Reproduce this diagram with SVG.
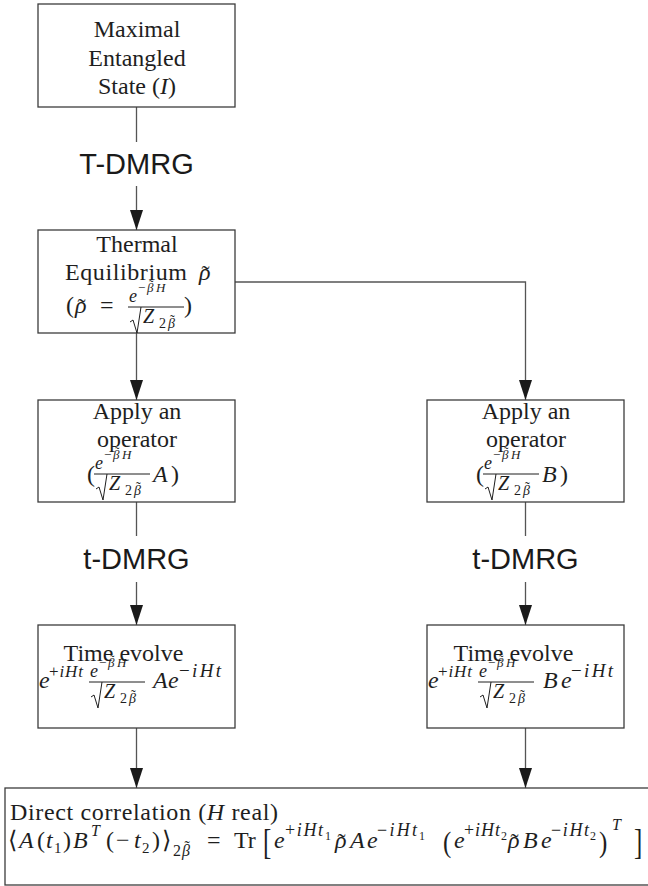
<svg xmlns="http://www.w3.org/2000/svg" xmlns:xlink="http://www.w3.org/1999/xlink" width="648" height="886" viewBox="0 0 648 886">
  <style>
    .box { fill: #fff; stroke: #3c3c3c; stroke-width: 1.3; }
    .edge { fill: none; stroke: #555; stroke-width: 1.3; }
    .t { font-family: "Liberation Serif", "DejaVu Serif", serif; fill: #1e1e1e; }
    .c { text-anchor: middle; }
    .i { font-style: italic; }
    .n { font-style: normal; }
    .lbl { font-family: "Liberation Sans", Arial, sans-serif; font-size: 29px; fill: #1a1a1a; text-anchor: middle; }
    .bar { stroke: #1e1e1e; stroke-width: 1; fill: none; }
  </style>
  <defs>
    <marker id="arrow" markerUnits="userSpaceOnUse" markerWidth="20" markerHeight="14" refX="20" refY="7" orient="auto">
      <path d="M0,0.5 L20,7 L0,13.5 Z" fill="#1a1a1a"/>
    </marker>
    <!-- e^{-beta H} / sqrt(Z_{2 beta}); origin at the left end of the fraction bar -->
    <g id="frac" class="t">
      <text class="i" x="1" y="-5" font-size="18">e</text>
      <text x="10" y="-15" font-size="13">−</text>
      <text class="i" x="19" y="-15" font-size="13">β<tspan class="n" dx="-4.5" dy="-3">˜</tspan></text>
      <text class="i" x="28" y="-15" font-size="13">H</text>
      <line class="bar" x1="0" y1="0" x2="56" y2="0"/>
      <polyline class="bar" points="2,15 5,13 9,26 13,0"/>
      <text class="i" x="15" y="16" font-size="20">Z</text>
      <text x="31" y="21" font-size="14">2</text>
      <text class="i" x="40" y="21" font-size="14">β<tspan class="n" dx="-5" dy="-3">˜</tspan></text>
    </g>
  </defs>

  <!-- connectors -->
  <g id="edges">
    <line class="edge" x1="136.5" y1="107" x2="136.5" y2="142"/>
    <line class="edge" x1="136.5" y1="186" x2="136.5" y2="230" marker-end="url(#arrow)"/>
    <line class="edge" x1="136.5" y1="333" x2="136.5" y2="400" marker-end="url(#arrow)"/>
    <polyline class="edge" points="235,282 525.5,282 525.5,400" marker-end="url(#arrow)"/>
    <line class="edge" x1="136.5" y1="502" x2="136.5" y2="536"/>
    <line class="edge" x1="136.5" y1="582" x2="136.5" y2="625" marker-end="url(#arrow)"/>
    <line class="edge" x1="525.5" y1="502" x2="525.5" y2="536"/>
    <line class="edge" x1="525.5" y1="582" x2="525.5" y2="625" marker-end="url(#arrow)"/>
    <line class="edge" x1="136.5" y1="728" x2="136.5" y2="788" marker-end="url(#arrow)"/>
    <line class="edge" x1="525.5" y1="728" x2="525.5" y2="788" marker-end="url(#arrow)"/>
    <text class="lbl" x="136.5" y="174">T-DMRG</text>
    <text class="lbl" x="136.5" y="569">t-DMRG</text>
    <text class="lbl" x="525.5" y="569">t-DMRG</text>
  </g>

  <g class="t" font-size="24">
    <!-- maximal entangled state -->
    <g id="n-maximal">
      <rect class="box" x="38" y="4" width="197" height="103"/>
      <text class="c" x="137" y="37">Maximal</text>
      <text class="c" x="137" y="66">Entangled</text>
      <text class="c" x="137" y="94">State (<tspan class="i">I</tspan>)</text>
    </g>

    <!-- thermal equilibrium -->
    <g id="n-thermal">
      <rect class="box" x="38" y="230" width="197" height="103"/>
      <text class="c" x="137" y="252">Thermal</text>
      <text x="65" y="280" textLength="122" lengthAdjust="spacing">Equilibrium</text>
      <text class="i" x="199" y="280">ρ<tspan class="n" dx="-9" dy="2">˜</tspan></text>
      <text x="66" y="313">(</text>
      <text class="i" x="75" y="313">ρ<tspan class="n" dx="-9" dy="2">˜</tspan></text>
      <text x="100" y="313">=</text>
      <use xlink:href="#frac" x="128" y="307"/>
      <text x="184" y="313">)</text>
    </g>

    <!-- apply operator A -->
    <g id="n-apply-a">
      <rect class="box" x="38" y="400" width="197" height="102"/>
      <text class="c" x="137" y="419">Apply an</text>
      <text class="c" x="137" y="447">operator</text>
      <text x="87" y="482">(</text>
      <use xlink:href="#frac" x="94" y="474"/>
      <text class="i" x="153" y="482">A</text>
      <text x="171" y="482">)</text>
    </g>

    <!-- apply operator B -->
    <g id="n-apply-b">
      <rect class="box" x="427" y="400" width="197" height="102"/>
      <text class="c" x="526" y="419">Apply an</text>
      <text class="c" x="526" y="447">operator</text>
      <text x="476" y="482">(</text>
      <use xlink:href="#frac" x="483" y="474"/>
      <text class="i" x="542" y="482">B</text>
      <text x="560" y="482">)</text>
    </g>

    <!-- time evolution of A -->
    <g id="n-evolve-a">
      <rect class="box" x="38" y="625" width="197" height="103"/>
      <text class="c" x="123.5" y="661">Time evolve</text>
      <text class="i" x="39" y="688">e</text>
      <text x="49" y="677" font-size="17" textLength="34" lengthAdjust="spacing">+<tspan class="i">iHt</tspan></text>
      <use xlink:href="#frac" x="89" y="682"/>
      <text class="i" x="153" y="688">A</text>
      <text class="i" x="168" y="688">e</text>
      <text x="179" y="677" font-size="19" textLength="42" lengthAdjust="spacing">−<tspan class="i">iHt</tspan></text>
    </g>

    <!-- time evolution of B -->
    <g id="n-evolve-b">
      <rect class="box" x="427" y="625" width="197" height="103"/>
      <text class="c" x="513.5" y="661">Time evolve</text>
      <text class="i" x="428" y="688">e</text>
      <text x="438" y="677" font-size="17" textLength="34" lengthAdjust="spacing">+<tspan class="i">iHt</tspan></text>
      <use xlink:href="#frac" x="478" y="682"/>
      <text class="i" x="543" y="688">B</text>
      <text class="i" x="561" y="688">e</text>
      <text x="571" y="677" font-size="19" textLength="42" lengthAdjust="spacing">−<tspan class="i">iHt</tspan></text>
    </g>

    <!-- direct correlation -->
    <g id="n-correlation">
      <rect class="box" x="5" y="788" width="650" height="97"/>
      <text x="10" y="820" textLength="268" lengthAdjust="spacing">Direct correlation (<tspan class="i">H</tspan> real)</text>
      <text x="8" y="848">⟨</text>
      <text class="i" x="19" y="848">A</text>
      <text x="37" y="848">(</text>
      <text class="i" x="46" y="848">t</text>
      <text x="54" y="853" font-size="15">1</text>
      <text x="63" y="848">)</text>
      <text class="i" x="73" y="848">B</text>
      <text class="i" x="91" y="836" font-size="16">T</text>
      <text x="106" y="848">(</text>
      <text x="116" y="848">−</text>
      <text class="i" x="134" y="848">t</text>
      <text x="142" y="853" font-size="15">2</text>
      <text x="152" y="848">)</text>
      <text x="162" y="848">⟩</text>
      <text x="173" y="856" font-size="16">2</text>
      <text class="i" x="182" y="856" font-size="16">β<tspan class="n" dx="-5.5" dy="-4">˜</tspan></text>
      <text x="207" y="848">=</text>
      <text x="234" y="848">Tr</text>
      <text transform="translate(263,854) scale(1,1.45)" font-size="25">[</text>
      <text class="i" x="274" y="848">e</text>
      <text x="285" y="836" font-size="18" textLength="38" lengthAdjust="spacing">+<tspan class="i">iHt</tspan></text>
      <text x="325" y="840" font-size="12">1</text>
      <text class="i" x="335" y="848">ρ<tspan class="n" dx="-9" dy="2">˜</tspan></text>
      <text class="i" x="350" y="848">A</text>
      <text class="i" x="367" y="848">e</text>
      <text x="377" y="836" font-size="18" textLength="40" lengthAdjust="spacing">−<tspan class="i">iHt</tspan></text>
      <text x="419" y="840" font-size="12">1</text>
      <text transform="translate(443,852) scale(1,1.15)" font-size="25">(</text>
      <text class="i" x="454" y="848">e</text>
      <text x="464" y="836" font-size="18" textLength="36" lengthAdjust="spacing">+<tspan class="i">iHt</tspan></text>
      <text x="501" y="840" font-size="12">2</text>
      <text class="i" x="508" y="848">ρ<tspan class="n" dx="-9" dy="2">˜</tspan></text>
      <text class="i" x="523" y="848">B</text>
      <text class="i" x="541" y="848">e</text>
      <text x="551" y="836" font-size="18" textLength="38" lengthAdjust="spacing">−<tspan class="i">iHt</tspan></text>
      <text x="590" y="840" font-size="12">2</text>
      <text transform="translate(599,852) scale(1,1.15)" font-size="25">)</text>
      <text class="i" x="612" y="830" font-size="16">T</text>
      <text transform="translate(634,854) scale(1,1.45)" font-size="25">]</text>
    </g>
  </g>
</svg>
